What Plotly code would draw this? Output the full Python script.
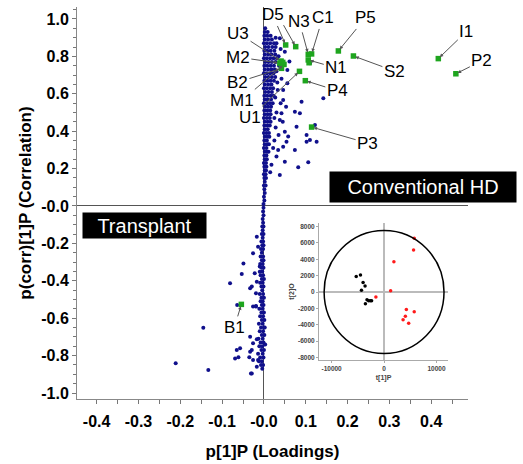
import plotly.graph_objects as go

# ---------------- data ----------------
# dense band of variable loadings, rows of (p(corr), [p values])
upper_rows = [
    (0.95, [0.003]),
    (0.93, [0.002, 0.009]),
    (0.91, [0.001, 0.008, 0.016]),
    (0.89, [0.002, 0.010, 0.019]),
    (0.87, [0.000, 0.007, 0.015, 0.024]),
    (0.85, [0.003, 0.011, 0.020, 0.028]),
    (0.83, [0.001, 0.008, 0.016, 0.025]),
    (0.81, [0.002, 0.010, 0.018, 0.027]),
    (0.79, [0.000, 0.007, 0.015, 0.023, 0.031]),
    (0.77, [0.003, 0.011, 0.019, 0.028]),
    (0.75, [0.001, 0.008, 0.016, 0.024]),
    (0.73, [0.002, 0.010, 0.018, 0.026]),
    (0.71, [0.000, 0.007, 0.015, 0.023]),
    (0.69, [0.003, 0.011, 0.019, 0.027]),
    (0.67, [0.001, 0.008, 0.016, 0.024]),
    (0.65, [0.002, 0.010, 0.018]),
    (0.63, [0.000, 0.007, 0.015, 0.022]),
    (0.61, [0.003, 0.011, 0.019]),
    (0.59, [0.001, 0.008, 0.016, 0.023]),
    (0.57, [0.002, 0.009, 0.017]),
    (0.55, [0.000, 0.007, 0.014, 0.021]),
    (0.53, [0.003, 0.010, 0.017]),
    (0.51, [0.001, 0.008, 0.015]),
    (0.49, [0.002, 0.009, 0.016]),
    (0.47, [0.000, 0.007, 0.014]),
    (0.45, [0.002, 0.009, 0.016]),
    (0.43, [0.001, 0.008, 0.014]),
    (0.41, [0.002, 0.009]),
    (0.39, [0.000, 0.006, 0.012]),
    (0.37, [0.002, 0.008, 0.013]),
    (0.35, [0.001, 0.007]),
    (0.33, [0.002, 0.008, 0.012]),
    (0.31, [0.000, 0.006]),
    (0.29, [0.002, 0.007, 0.011]),
    (0.27, [0.001, 0.006]),
    (0.25, [0.002, 0.007]),
    (0.23, [0.000, 0.005]),
    (0.21, [0.001, 0.006]),
    (0.19, [0.002, 0.005]),
    (0.17, [0.000, 0.004]),
    (0.15, [0.001, 0.005]),
    (0.13, [0.002]),
    (0.11, [0.000, 0.004]),
    (0.09, [0.001]),
    (0.07, [0.002]),
    (0.05, [0.000]),
    (0.03, [0.001]),
    (0.01, [-0.001]),
]
lower_rows = [
    (-0.01, [-0.001]),
    (-0.03, [-0.002]),
    (-0.05, [-0.001]),
    (-0.07, [-0.003]),
    (-0.09, [-0.002]),
    (-0.11, [-0.004, -0.001]),
    (-0.13, [-0.003]),
    (-0.15, [-0.005, -0.001]),
    (-0.17, [-0.003]),
    (-0.19, [-0.006, -0.002]),
    (-0.21, [-0.004, -0.001]),
    (-0.23, [-0.007, -0.002]),
    (-0.25, [-0.005]),
    (-0.27, [-0.008, -0.002]),
    (-0.29, [-0.005, -0.001]),
    (-0.31, [-0.009, -0.003]),
    (-0.33, [-0.006, -0.001]),
    (-0.35, [-0.004]),
    (-0.37, [-0.008, -0.002]),
    (-0.39, [-0.005, 0.000]),
    (-0.41, [-0.009, -0.003]),
    (-0.43, [-0.006, -0.001]),
    (-0.45, [-0.004]),
    (-0.47, [-0.010, -0.002]),
    (-0.49, [-0.006, 0.000]),
    (-0.51, [-0.008, -0.003]),
    (-0.53, [-0.005, -0.001]),
    (-0.55, [-0.011, -0.003]),
    (-0.57, [-0.006, 0.000]),
    (-0.59, [-0.009, -0.002]),
    (-0.61, [-0.005, 0.001]),
    (-0.63, [-0.012, -0.003]),
    (-0.65, [-0.007, 0.000]),
    (-0.67, [-0.010, -0.002]),
    (-0.69, [-0.005, 0.001]),
    (-0.71, [-0.013, -0.003]),
    (-0.73, [-0.008, -0.001]),
    (-0.75, [-0.011, -0.004]),
    (-0.77, [-0.006, 0.000]),
    (-0.79, [-0.014, -0.003]),
    (-0.81, [-0.009, -0.001]),
    (-0.83, [-0.012, -0.005]),
    (-0.85, [-0.007, -0.002]),
    (-0.87, [-0.004]),
]
# scattered loadings outside the dense band
fringe_x = [0.030, 0.038, 0.050, 0.061, 0.056, 0.056, 0.046, 0.090, 0.142, 0.074,
            0.086, 0.038, 0.078, 0.122, 0.102, 0.110, 0.126, 0.102, 0.074, 0.050,
            0.058, 0.054, 0.046, 0.110, 0.046, 0.053, 0.042, 0.050, 0.082, 0.106,
            0.038, 0.030, 0.034, 0.035, 0.042, 0.033, 0.040, 0.030, 0.045, 0.028,
            0.035, 0.025, 0.030, 0.036, 0.040, 0.028, 0.032, 0.027, 0.025, 0.022,
            0.018, 0.015,
            -0.053, -0.081, -0.033, -0.064, -0.026, -0.019, -0.145, -0.017, -0.029, -0.069,
            -0.061, -0.035, -0.211, -0.133, -0.031, -0.017, -0.014, -0.026, -0.033, -0.017,
            -0.019, -0.010, -0.010, -0.049, -0.026, -0.022, -0.029, -0.019, -0.033, -0.026,
            -0.029, -0.065, -0.057, -0.017, -0.014, 0.002, 0.003]
fringe_y = [0.870, 0.897, 0.825, 0.772, 0.727, 0.656, 0.620, 0.558, 0.576, 0.504,
            0.496, 0.460, 0.424, 0.433, 0.380, 0.353, 0.344, 0.344, 0.299, 0.397,
            0.371, 0.344, 0.317, 0.763, 0.567, 0.531, 0.496, 0.237, 0.207, 0.234,
            0.166, 0.264, 0.300, 0.800, 0.680, 0.620, 0.550, 0.500, 0.450, 0.420,
            0.380, 0.350, 0.720, 0.750, 0.840, 0.900, 0.660, 0.580, 0.470, 0.310,
            0.220, 0.180,
            -0.364, -0.413, -0.440, -0.529, -0.538, -0.535, -0.651, -0.713, -0.770, -0.815,
            -0.809, -0.809, -0.841, -0.877, -0.895, -0.859, -0.823, -0.823, -0.779, -0.405,
            -0.467, -0.351, -0.324, -0.307, -0.253, -0.360, -0.431, -0.538, -0.699, -0.734,
            -0.895, -0.770, -0.761, -0.164, -0.218, -0.650, -0.740]

# highlighted (green) variables
green_names = ["D5", "", "N3", "C1", "N1", "", "P5", "S2", "I1", "P2", "P4", "U1",
               "U3", "M2", "B2", "M1", "", "P3", "B1"]
green_x = [0.052, 0.076, 0.106, 0.114, 0.106, 0.108, 0.178, 0.214, 0.417, 0.459, 0.099, 0.085,
           0.041, 0.038, 0.042, 0.048, 0.045, 0.114, -0.054]
green_y = [0.861, 0.852, 0.811, 0.813, 0.781, 0.766, 0.829, 0.802, 0.788, 0.707, 0.670, 0.720,
           0.775, 0.764, 0.736, 0.757, 0.768, 0.422, -0.526]

# inset score plot t[1]P vs t[2]O
tx_black = [-5310, -4500, -4000, -3625, -4310, -3250, -2940, -2625, -2375, -3560]
ty_black = [1890, 2090, 1150, 740, 205, -940, -1070, -1070, -1070, -1435]
tx_red = [5750, 5625, 1875, 1250, -1560, 4250, 5750, 4060, 3625, 4690]
ty_red = [6560, 5125, 3690, 165, -615, -2130, -2420, -2950, -3400, -3810]
ellipse_rx, ellipse_ry = 11430, 7510

x_tickvals = [-0.4, -0.3, -0.2, -0.1, 0.0, 0.1, 0.2, 0.3, 0.4]
x_ticktext = ["-0.4", "-0.3", "-0.2", "-0.1", "-0.0", "0.1", "0.2", "0.3", "0.4"]
y_tickvals = [1.0, 0.8, 0.6, 0.4, 0.2, 0.0, -0.2, -0.4, -0.6, -0.8, -1.0]
y_ticktext = ["1.0", "0.8", "0.6", "0.4", "0.2", "-0.0", "-0.2", "-0.4", "-0.6", "-0.8", "-1.0"]
ix_tickvals = [-10000, 0, 10000]
ix_ticktext = ["-10000", "0", "10000"]
iy_tickvals = [8000, 6000, 4000, 2000, 0, -2000, -4000, -6000, -8000]
iy_ticktext = ["8000", "6000", "4000", "2000", "0", "-2000", "-4000", "-6000", "-8000"]

# ---------------- figure ----------------
blue_x = [x for _, xs in upper_rows + lower_rows for x in xs] + fringe_x
blue_y = [y for y, xs in upper_rows + lower_rows for _ in xs] + fringe_y

FONT = "Liberation Sans, Arial, sans-serif"
fig = go.Figure()
fig.add_trace(go.Scatter(x=blue_x, y=blue_y, mode="markers",
                         marker=dict(size=4, color="#10108c", line=dict(width=0)),
                         hoverinfo="skip", showlegend=False))
fig.add_trace(go.Scatter(x=green_x, y=green_y, mode="markers",
                         marker=dict(size=5.5, symbol="square", color="#1ea51e", line=dict(width=0)),
                         showlegend=False))
fig.add_trace(go.Scatter(x=tx_black, y=ty_black, xaxis="x2", yaxis="y2", mode="markers",
                         marker=dict(size=3.5, color="black"), showlegend=False))
fig.add_trace(go.Scatter(x=tx_red, y=ty_red, xaxis="x2", yaxis="y2", mode="markers",
                         marker=dict(size=3.5, color="#ff1a1a"), showlegend=False))

# label offsets (pixels from point to text centre)
offsets = [(-13, -30), (-13, -23), (-9, -33), (11, -36), (28, 8), None, (27, -33), (41, 15),
           (28, -27), (26, -13), (32, 10), (-49, 46), (-43, -28), (-42, -6), (-44, 14),
           (-42, 36), None, (56, 16), (-7, 23)]
annotations = []
for name, x, y, off in zip(green_names, green_x, green_y, offsets):
    if off is None:
        continue
    annotations.append(dict(x=x, y=y, xref="x", yref="y", text=name, showarrow=True,
                            ax=off[0], ay=off[1], arrowhead=2, arrowsize=0.7, arrowwidth=1,
                            arrowcolor="#555555", standoff=2,
                            font=dict(family=FONT, size=17, color="black")))

annotations.append(dict(xref="paper", yref="paper", x=(423 - 77) / 391, y=(399 - 187) / 392,
                        xanchor="center", yanchor="middle", text="Conventional HD",
                        showarrow=False, bgcolor="black", width=186, height=30, borderpad=0,
                        font=dict(family=FONT, size=20, color="white")))
annotations.append(dict(xref="paper", yref="paper", x=(144.5 - 77) / 391, y=(399 - 225.5) / 392,
                        xanchor="center", yanchor="middle", text="Transplant",
                        showarrow=False, bgcolor="black", width=123, height=25, borderpad=0,
                        font=dict(family=FONT, size=20, color="white")))

tick_font = dict(family=FONT, size=16, color="black", weight="bold")
title_font = dict(family=FONT, size=17, color="black", weight="bold")
inset_font = dict(family=FONT, size=6.5, color="#444444", weight="bold")

fig.update_layout(
    width=523, height=464,
    margin=dict(l=77, r=55, t=7, b=65),
    paper_bgcolor="white", plot_bgcolor="white",
    font=dict(family=FONT),
    xaxis=dict(range=[-0.447, 0.488], tickvals=x_tickvals, ticktext=x_ticktext,
               tickfont=tick_font, ticks="outside", ticklen=4, tickcolor="#777",
               ticklabelstandoff=4,
               minor=dict(dtick=0.05, ticks="outside", ticklen=4, tickcolor="#777"),
               showline=True, linecolor="#888", linewidth=1, showgrid=False,
               zeroline=True, zerolinecolor="#555", zerolinewidth=1,
               title=dict(text="p[1]P (Loadings)", font=title_font, standoff=15),
               automargin=True),
    yaxis=dict(range=[-1.032, 1.064], tickvals=y_tickvals, ticktext=y_ticktext,
               tickfont=tick_font, ticks="outside", ticklen=4, tickcolor="#777",
               minor=dict(dtick=0.05, ticks="outside", ticklen=3, tickcolor="#777"),
               showline=True, linecolor="#888", linewidth=1, showgrid=False,
               zeroline=True, zerolinecolor="#555", zerolinewidth=1,
               title=dict(text="p(corr)[1]P (Correlation)", font=title_font, standoff=5),
               automargin=True),
    xaxis2=dict(domain=[0.619, 0.949], anchor="y2", range=[-12400, 12200],
                tickvals=ix_tickvals, ticktext=ix_ticktext, tickfont=inset_font,
                ticks="outside", ticklen=2,
                tickcolor="#aaa", showline=True, linecolor="#aaa", showgrid=False,
                zeroline=True, zerolinecolor="#bbbbbb", zerolinewidth=1.5,
                title=dict(text="t[1]P", font=dict(family=FONT, size=7, color="#444", weight="bold"),
                           standoff=4)),
    yaxis2=dict(domain=[0.0995, 0.449], anchor="x2", range=[-8300, 8425],
                tickvals=iy_tickvals, ticktext=iy_ticktext, tickfont=inset_font,
                ticks="outside", ticklen=2,
                tickcolor="#aaa", showline=True, linecolor="#aaa", showgrid=False,
                zeroline=True, zerolinecolor="#bbbbbb", zerolinewidth=1.5,
                title=dict(text="t[2]O", font=dict(family=FONT, size=7, color="#444", weight="bold"),
                           standoff=2)),
    shapes=[dict(type="circle", xref="x2", yref="y2", x0=-ellipse_rx, x1=ellipse_rx,
                 y0=-ellipse_ry, y1=ellipse_ry, line=dict(color="black", width=1.5))],
    annotations=annotations,
)

fig.write_html("out.html")
